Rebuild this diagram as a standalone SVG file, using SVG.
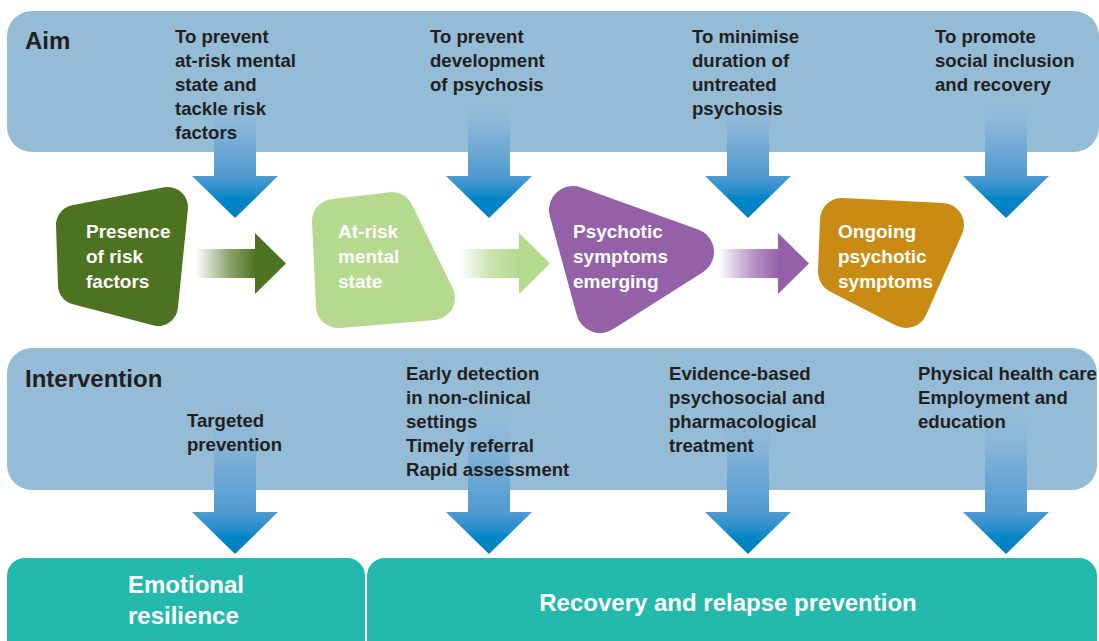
<svg xmlns="http://www.w3.org/2000/svg" width="1099" height="641" viewBox="0 0 1099 641">
<style>
.band{fill:#95bcd7}
.hd{font-family:"Liberation Sans",Arial,sans-serif;font-weight:bold;font-size:24px;fill:#231f20}
.t{font-family:"Liberation Sans",Arial,sans-serif;font-weight:bold;font-size:18.6px;fill:#231f20}
.w{font-family:"Liberation Sans",Arial,sans-serif;font-weight:bold;font-size:19px;fill:#ffffff}
.wb{font-family:"Liberation Sans",Arial,sans-serif;font-weight:bold;font-size:24px;fill:#ffffff}
.nd{stroke-linejoin:round}
.out{fill:#23b9ac}
</style>
<defs>
<linearGradient id="gTop" gradientUnits="userSpaceOnUse" x1="0" y1="95" x2="0" y2="218">
<stop offset="0" stop-color="#95bcd7" stop-opacity="0"/>
<stop offset="0.25" stop-color="#89b6d8"/>
<stop offset="0.66" stop-color="#4f9ad0"/>
<stop offset="0.8" stop-color="#1e8bcb"/>
<stop offset="0.84" stop-color="#0086c6"/>
<stop offset="1" stop-color="#0080c2"/>
</linearGradient>
<linearGradient id="gBot" gradientUnits="userSpaceOnUse" x1="0" y1="395" x2="0" y2="554">
<stop offset="0" stop-color="#95bcd7" stop-opacity="0"/>
<stop offset="0.3" stop-color="#89b6d8"/>
<stop offset="0.74" stop-color="#4f9ad0"/>
<stop offset="0.86" stop-color="#1e8bcb"/>
<stop offset="0.89" stop-color="#0086c6"/>
<stop offset="1" stop-color="#0080c2"/>
</linearGradient>
<linearGradient id="gG1" x1="0" y1="0" x2="1" y2="0">
<stop offset="0" stop-color="#4e7320" stop-opacity="0"/>
<stop offset="0.55" stop-color="#4e7320" stop-opacity="0.65"/>
<stop offset="1" stop-color="#4e7320"/>
</linearGradient>
<linearGradient id="gG2" x1="0" y1="0" x2="1" y2="0">
<stop offset="0" stop-color="#b5d98f" stop-opacity="0"/>
<stop offset="0.55" stop-color="#b5d98f" stop-opacity="0.75"/>
<stop offset="1" stop-color="#b5d98f"/>
</linearGradient>
<linearGradient id="gP" x1="0" y1="0" x2="1" y2="0">
<stop offset="0" stop-color="#9461a8" stop-opacity="0"/>
<stop offset="0.55" stop-color="#9461a8" stop-opacity="0.65"/>
<stop offset="1" stop-color="#9461a8"/>
</linearGradient>
</defs>

<g id="aim-band">
<rect class="band" x="7" y="11" width="1092" height="141" rx="25"/>
<text class="hd" x="25" y="49">Aim</text>
</g>
<g id="intervention-band">
<rect class="band" x="7" y="348" width="1090" height="142" rx="25"/>
<text class="hd" x="25" y="387">Intervention</text>
</g>

<g id="connectors">
<path fill="url(#gTop)" d="M214 95H256V176H278L235 218L192 176H214Z"/>
<path fill="url(#gTop)" d="M468 95H510V176H532L489 218L446 176H468Z"/>
<path fill="url(#gTop)" d="M727 95H769V176H791L748 218L705 176H727Z"/>
<path fill="url(#gTop)" d="M985 95H1027V176H1049L1006 218L963 176H985Z"/>
<path fill="url(#gBot)" d="M214 395H256V512H278L235 554L192 512H214Z"/>
<path fill="url(#gBot)" d="M468 395H510V512H532L489 554L446 512H468Z"/>
<path fill="url(#gBot)" d="M727 395H769V512H791L748 554L705 512H727Z"/>
<path fill="url(#gBot)" d="M985 395H1027V512H1049L1006 554L963 512H985Z"/>
<rect x="196" y="249" width="60" height="29" fill="url(#gG1)"/>
<path fill="#4e7320" d="M255 233L286 263.5L255 294Z"/>
<rect x="459" y="249" width="61" height="29" fill="url(#gG2)"/>
<path fill="#b5d98f" d="M519 233L550 263.5L519 294Z"/>
<rect x="718" y="249" width="61" height="29" fill="url(#gP)"/>
<path fill="#9461a8" d="M778 233L809 263.5L778 294Z"/>
</g>

<g id="aim-texts">
<text class="t"><tspan x="175" y="43">To prevent</tspan><tspan x="175" y="67">at-risk mental</tspan><tspan x="175" y="91">state and</tspan><tspan x="175" y="115">tackle risk</tspan><tspan x="175" y="139">factors</tspan></text>
<text class="t"><tspan x="430" y="43">To prevent</tspan><tspan x="430" y="67">development</tspan><tspan x="430" y="91">of psychosis</tspan></text>
<text class="t"><tspan x="692" y="43">To minimise</tspan><tspan x="692" y="67">duration of</tspan><tspan x="692" y="91">untreated</tspan><tspan x="692" y="115">psychosis</tspan></text>
<text class="t"><tspan x="935" y="43">To promote</tspan><tspan x="935" y="67">social inclusion</tspan><tspan x="935" y="91">and recovery</tspan></text>
</g>

<g id="intervention-texts">
<text class="t"><tspan x="187" y="427">Targeted</tspan><tspan x="187" y="451">prevention</tspan></text>
<text class="t"><tspan x="406" y="380">Early detection</tspan><tspan x="406" y="404">in non-clinical</tspan><tspan x="406" y="428">settings</tspan><tspan x="406" y="452">Timely referral</tspan><tspan x="406" y="476">Rapid assessment</tspan></text>
<text class="t"><tspan x="669" y="380">Evidence-based</tspan><tspan x="669" y="404">psychosocial and</tspan><tspan x="669" y="428">pharmacological</tspan><tspan x="669" y="452">treatment</tspan></text>
<text class="t"><tspan x="918" y="380">Physical health care</tspan><tspan x="918" y="404">Employment and</tspan><tspan x="918" y="428">education</tspan></text>
</g>

<g id="node-risk-factors">
<path class="nd" fill="#4e7320" stroke="#4e7320" stroke-width="40" d="M76 225L168 207L158 306L78 285Z"/>
<text class="w"><tspan x="86" y="238">Presence</tspan><tspan x="86" y="263">of risk</tspan><tspan x="86" y="288">factors</tspan></text>
</g>
<g id="node-at-risk">
<path class="nd" fill="#b5d98f" stroke="#b5d98f" stroke-width="44" d="M334 221L392 214L433 298L338 306Z"/>
<text class="w"><tspan x="338" y="238">At-risk</tspan><tspan x="338" y="263">mental</tspan><tspan x="338" y="288">state</tspan></text>
</g>
<g id="node-emerging">
<path class="nd" fill="#9461a8" stroke="#9461a8" stroke-width="48" d="M573 210L690 252L600 309Z"/>
<text class="w"><tspan x="573" y="238">Psychotic</tspan><tspan x="573" y="263">symptoms</tspan><tspan x="573" y="288">emerging</tspan></text>
</g>
<g id="node-ongoing">
<path class="nd" fill="#c98b14" stroke="#c98b14" stroke-width="44" d="M842 220L942 225L906 306L840 272Z"/>
<text class="w"><tspan x="838" y="238">Ongoing</tspan><tspan x="838" y="263">psychotic</tspan><tspan x="838" y="288">symptoms</tspan></text>
</g>

<g id="outcome-resilience">
<rect class="out" x="7" y="558" width="358" height="110" rx="18"/>
<text class="wb"><tspan x="128" y="593">Emotional</tspan><tspan x="128" y="624">resilience</tspan></text>
</g>
<g id="outcome-recovery">
<rect class="out" x="367" y="558" width="730" height="110" rx="18"/>
<text class="wb" x="728" y="611" text-anchor="middle">Recovery and relapse prevention</text>
</g>
</svg>
